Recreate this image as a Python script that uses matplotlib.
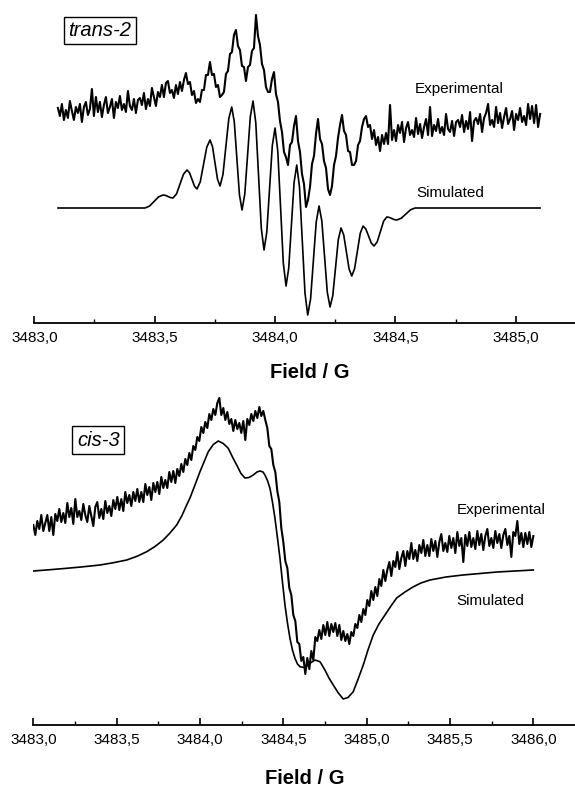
import numpy as np
import matplotlib
matplotlib.use("Agg")
import matplotlib.pyplot as plt

plt.rcParams['font.family'] = ['Liberation Sans', 'DejaVu Sans']

# ---- trans-2 (upper panel) ----
trans_major = [3483.0, 3483.5, 3484.0, 3484.5, 3485.0]
trans_labels = ["3483,0", "3483,5", "3484,0", "3484,5", "3485,0"]
trans_minor = [3483.25, 3483.75, 3484.25, 3484.75]

# simulated spectrum, field (G) / intensity (arb. units)
trans_sim_field = [
    3483.0985, 3483.4599, 3483.4786, 3483.4973, 3483.5160, 3483.5347, 3483.5451,
    3483.5555, 3483.5658, 3483.5762, 3483.5908, 3483.6053, 3483.6199, 3483.6344,
    3483.6448, 3483.6552, 3483.6655, 3483.6759, 3483.6894, 3483.7029, 3483.7164,
    3483.7299, 3483.7403, 3483.7507, 3483.7611, 3483.7715, 3483.7837, 3483.7958,
    3483.8080, 3483.8201, 3483.8308, 3483.8415, 3483.8522, 3483.8629, 3483.8743,
    3483.8858, 3483.8972, 3483.9086, 3483.9200, 3483.9315, 3483.9429, 3483.9543,
    3483.9657, 3483.9772, 3483.9886, 3484.0000, 3484.0114, 3484.0229, 3484.0343,
    3484.0457, 3484.0568, 3484.0679, 3484.0790, 3484.0901, 3484.1015, 3484.1130,
    3484.1244, 3484.1358, 3484.1476, 3484.1593, 3484.1711, 3484.1828, 3484.1942,
    3484.2057, 3484.2171, 3484.2285, 3484.2399, 3484.2514, 3484.2628, 3484.2742,
    3484.2853, 3484.2965, 3484.3076, 3484.3187, 3484.3304, 3484.3422, 3484.3539,
    3484.3656, 3484.3770, 3484.3885, 3484.3999, 3484.4113, 3484.4245, 3484.4377,
    3484.4509, 3484.4641, 3484.4745, 3484.4849, 3484.4952, 3484.5056, 3484.5246,
    3484.5436, 3484.5626, 3484.5816, 3485.1009]
trans_sim = [
    0, 0, 1.9, 6.5, 11.1, 13, 12.6,
    11.5, 10.4, 10, 14.1, 24, 33.9, 38,
    35.2, 28.5, 21.8, 19, 26.2, 43.5, 60.8,
    68, 61.3, 45, 28.7, 22, 33.5, 61.5,
    89.5, 101, 86, 49.5, 13, -2, 13.9,
    52.5, 91.1, 107, 85.2, 32.5, -20.2, -42,
    -24.2, 19, 62.2, 80, 56.9, 1, -54.9,
    -78, -60.3, -17.5, 25.3, 43, 21.1, -32,
    -85.1, -107, -91.1, -52.5, -13.9, 2, -12.7,
    -48.5, -84.3, -99, -87.5, -59.5, -31.5, -20,
    -27, -44, -61, -68, -60.7, -43, -25.3,
    -18, -20.9, -28, -35.1, -38, -33.8, -23.5,
    -13.2, -9, -9.4, -10.5, -11.6, -12, -10.2,
    -6, -1.8, 0, 0]

# experimental spectrum, uniform sweep
trans_exp_start, trans_exp_end = 3483.098, 3485.101
trans_exp = [
    5, -3, 9, -7, 3, -5, 12, 2, -7, 6, 0, 9, -9, 6, 11, -2, 4, 24, -3, 16,
    1, 11, -4, 8, 16, 0, 6, 14, -5, 11, 5, 17, 3, 9, 1, 22, 7, 3, 14, 0,
    13, 15, 8, 20, 4, 14, 7, 25, 16, 7, 21, 16, 28, 16, 30, 32, 20, 23, 15, 28,
    19, 31, 22, 33, 40, 29, 31, 18, 22, 10, 14, 11, 23, 23, 38, 38, 51, 38, 39, 26,
    28, 16, 18, 21, 39, 42, 59, 61, 78, 83, 67, 63, 47, 46, 32, 46, 48, 62, 65, 98,
    77, 68, 49, 43, 26, 21, 21, 34, 41, 19, 11, -8, -19, -39, -44, -52, -32, -29, -13, -3,
    -28, -39, -61, -71, -94, -87, -74, -51, -43, -21, -6, -26, -31, -48, -55, -76, -82, -73, -52, -43,
    -25, -12, -2, -18, -22, -38, -39, -52, -52, -48, -32, -28, -14, -6, -3, -14, -12, -26, -17, -32,
    -24, -38, -22, -31, -20, -31, 8, -27, -17, -28, -12, -20, -9, -29, -15, -9, -22, -17, -24, -5,
    -21, -11, -25, -14, -6, -22, 6, -23, -12, -18, -6, -20, -14, -22, -1, -16, -19, -8, -23, -9,
    -7, -14, -2, -19, -8, -16, 1, -28, -8, -5, -11, -1, -19, -5, 0, 9, -12, -7, -14, 6,
    -10, 0, -15, -4, 5, -11, -6, 2, -17, -1, -7, 5, -9, -3, -12, 9, -6, 7, -10, 8,
    -14, -1]
trans_exp_offset = 95

# ---- cis-3 (lower panel) ----
cis_major = [3483.0, 3483.5, 3484.0, 3484.5, 3485.0, 3485.5, 3486.0]
cis_labels = ["3483,0", "3483,5", "3484,0", "3484,5", "3485,0", "3485,5", "3486,0"]
cis_minor = [3483.25, 3483.75, 3484.25, 3484.75, 3485.25, 3485.75]

cis_sim_field = [
    3483.0000, 3483.1002, 3483.2004, 3483.2981, 3483.4001, 3483.4781, 3483.5603,
    3483.6221, 3483.6803, 3483.7301, 3483.7798, 3483.8200, 3483.8602, 3483.8920,
    3483.9202, 3483.9400, 3483.9700, 3484.0000, 3484.0498, 3484.0798, 3484.1098,
    3484.1398, 3484.1698, 3484.1950, 3484.2202, 3484.2460, 3484.2700, 3484.2940,
    3484.3197, 3484.3419, 3484.3599, 3484.3779, 3484.3899, 3484.4049, 3484.4199,
    3484.4349, 3484.4499, 3484.4649, 3484.4799, 3484.4949, 3484.5099, 3484.5249,
    3484.5399, 3484.5549, 3484.5699, 3484.5849, 3484.5999, 3484.6299, 3484.6599,
    3484.6899, 3484.7199, 3484.7498, 3484.7738, 3484.7996, 3484.8278, 3484.8596,
    3484.8878, 3484.9196, 3484.9478, 3484.9796, 3485.0078, 3485.0396, 3485.0738,
    3485.1098, 3485.1458, 3485.1800, 3485.2298, 3485.2778, 3485.3257, 3485.3797,
    3485.4757, 3485.5777, 3485.6797, 3485.7817, 3485.8896, 3486.0000]
cis_sim = [
    0, 1.3, 2.7, 4.2, 6, 8.2, 11,
    14.7, 19.3, 24.5, 31, 38, 46, 55.5,
    66, 73, 86, 99.3, 119.3, 126.5, 130,
    127.5, 122.7, 114, 106, 97.5, 93, 93.5,
    96, 99, 100, 99, 96, 90.5, 82.7,
    69, 52.7, 33, 12.7, -11, -34, -52,
    -67.3, -79, -87.3, -93, -95.7, -96.7, -92.3,
    -89, -90.7, -99, -107, -114, -121.5, -128,
    -126.5, -120.7, -108.5, -94, -79, -64, -53,
    -44, -35, -27, -21, -16, -12, -9,
    -6, -4, -2.5, -1, 0, 1]

cis_exp_start, cis_exp_end = 3483.0, 3486.0
cis_exp = [
    3, -7, 7, -1, 13, -3, 5, 13, -3, 11, -7, 14, 7, 19, 6, 15, 5, 25, 11, 20,
    4, 29, 11, 17, 8, 24, 13, 6, 22, 12, 2, 21, 26, 10, 19, 9, 27, 15, 22, 12,
    28, 19, 31, 18, 29, 17, 36, 25, 33, 22, 36, 27, 39, 26, 36, 26, 44, 33, 41, 28,
    45, 36, 46, 34, 51, 40, 48, 40, 56, 46, 57, 45, 59, 52, 64, 56, 69, 63, 75, 68,
    82, 78, 91, 87, 101, 95, 106, 100, 114, 108, 119, 113, 125, 130, 113, 120, 108, 116, 104, 109,
    97, 108, 99, 105, 95, 107, 88, 109, 103, 114, 107, 117, 110, 121, 112, 117, 108, 100, 82, 79,
    63, 56, 37, 26, 0, -14, -33, -40, -60, -67, -87, -93, -114, -116, -133, -129, -146, -130, -141, -123,
    -132, -109, -113, -102, -111, -97, -107, -94, -108, -96, -104, -95, -108, -97, -112, -103, -113, -106, -116, -104,
    -108, -96, -100, -87, -94, -81, -87, -72, -78, -63, -72, -59, -68, -51, -58, -42, -53, -42, -34, -48,
    -33, -39, -24, -41, -30, -23, -38, -23, -31, -15, -31, -22, -33, -17, -25, -12, -28, -17, -28, -11,
    -23, -13, -29, -14, -6, -23, -15, -24, -8, -20, -10, -25, -4, -18, -10, -34, -7, -18, -4, -19,
    -10, -21, -3, -17, -6, -22, -8, -1, -18, -10, -20, -3, -15, -6, -20, -7, -1, -17, -8, -29,
    -4, -8, 7, -16, -5, -19, -5, -16, -4, -19, -8]
cis_exp_offset = 43


def style_axis(ax, majors, labels, minors):
    for s in ["top", "left", "right"]:
        ax.spines[s].set_visible(False)
    ax.spines["bottom"].set_linewidth(1.3)
    ax.set_yticks([])
    ax.set_xticks(majors)
    ax.set_xticklabels(labels)
    ax.set_xticks(minors, minor=True)
    ax.tick_params(axis="x", which="major", direction="in", length=5,
                   width=1.2, pad=6, labelsize=11)
    ax.tick_params(axis="x", which="minor", direction="in", length=3, width=1.0)
    ax.patch.set_alpha(0)


fig = plt.figure(figsize=(5.75, 7.94), dpi=100)
W, H = 575.0, 794.0

# upper panel
ax1 = fig.add_axes([34.3 / W, 1 - 323 / H, 1 - 34.3 / W, 323 / H])
x_exp = np.linspace(trans_exp_start, trans_exp_end, len(trans_exp))
ax1.plot(x_exp, np.array(trans_exp) + trans_exp_offset, color="black", lw=1.5)
ax1.plot(trans_sim_field, trans_sim, color="black", lw=1.2)
ax1.set_xlim(3483.0, 3485.246)
ax1.set_ylim(-115, 208)
style_axis(ax1, trans_major, trans_labels, trans_minor)

# lower panel
ax2 = fig.add_axes([33.3 / W, 1 - 725 / H, 1 - 33.3 / W, 380 / H])
x_exp = np.linspace(cis_exp_start, cis_exp_end, len(cis_exp))
ax2.plot(x_exp, np.array(cis_exp) + cis_exp_offset, color="black", lw=1.5)
ax2.plot(cis_sim_field, cis_sim, color="black", lw=1.2)
ax2.set_xlim(3483.0, 3486.25)
ax2.set_ylim(-154, 226)
style_axis(ax2, cis_major, cis_labels, cis_minor)

box = dict(boxstyle="square,pad=0.22", facecolor="white", edgecolor="black", lw=1.0)
fig.text(99.7 / W, 1 - 30.5 / H, "trans-2", style="italic", fontsize=14.5,
         ha="center", va="center", bbox=box)
fig.text(98.3 / W, 1 - 440 / H, "cis-3", style="italic", fontsize=14.5,
         ha="center", va="center", bbox=box)

fig.text(415 / W, 1 - 89 / H, "Experimental", fontsize=11, ha="left", va="center")
fig.text(416 / W, 1 - 193 / H, "Simulated", fontsize=11, ha="left", va="center")
fig.text(456.7 / W, 1 - 510 / H, "Experimental", fontsize=11, ha="left", va="center")
fig.text(456.7 / W, 1 - 601 / H, "Simulated", fontsize=11, ha="left", va="center")

fig.text(310 / W, 1 - 372 / H, "Field / G", fontsize=14.5, fontweight="bold",
         ha="center", va="center")
fig.text(305 / W, 1 - 778 / H, "Field / G", fontsize=14.5, fontweight="bold",
         ha="center", va="center")

fig.savefig("out.png", dpi=100)
